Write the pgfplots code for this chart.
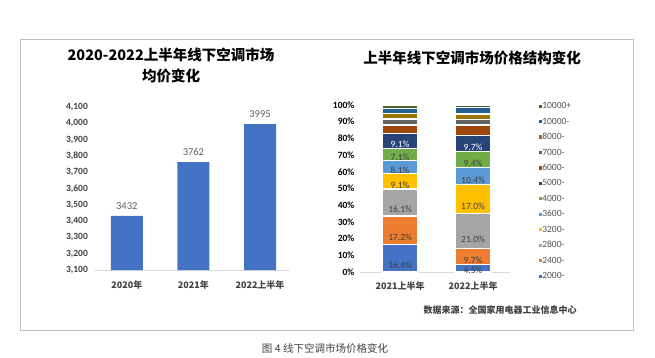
\documentclass[border=0pt]{standalone}
\usepackage{fontspec}
\usepackage{pgfplots}
\usepackage{pgfplotstable}
\pgfplotsset{compat=1.18}
\setmainfont{Carlito}
\newfontfamily\cjk{Noto Sans CJK SC}
\definecolor{c1}{HTML}{4472C4}
\definecolor{c2}{HTML}{ED7D31}
\definecolor{c3}{HTML}{A5A5A5}
\definecolor{c4}{HTML}{FFC000}
\definecolor{c5}{HTML}{5B9BD5}
\definecolor{c6}{HTML}{70AD47}
\definecolor{c7}{HTML}{264478}
\definecolor{c8}{HTML}{9E480E}
\definecolor{c9}{HTML}{636363}
\definecolor{c10}{HTML}{997300}
\definecolor{c11}{HTML}{255E91}
\definecolor{c12}{HTML}{43682B}
\definecolor{txt}{HTML}{404040}
\definecolor{axl}{HTML}{D9D9D9}
\definecolor{frm}{HTML}{BFBFBF}

\pgfplotstableread{
x y
0 3432
1 3762
2 3995
}\avgprice

\pgfplotstableread{
x s1 s2 s3 s4 s5 s6 s7 s8 s9 s10 s11 s12
0 16.4 17.2 16.1 9.1 8.1 7.1 9.1 4.9 3.7 3.2 3.2 1.9
1 4.5 9.7 21.0 17.0 10.4 9.4 9.7 6.3 3.5 3.2 3.8 1.5
}\structure

\pgfplotsset{
  lab/.style={
    point meta=explicit symbolic,
    nodes near coords={\pgfplotspointmeta\%},
    every node near coord/.append style={anchor=center, yshift={-\pgfplotspointmeta*0.4175pt},
      font=\fontsize{9.5}{9.5}\selectfont, text=txt, draw=none, inner sep=0pt},
  },
}

\begin{document}
\begin{tikzpicture}[x=1pt,y=1pt]
\path[use as bounding box] (0,0) rectangle (655,357);
\draw[frm, line width=1pt] (20,27) rectangle (633,317);

\node[font=\cjk\bfseries\fontsize{14.5}{16}\selectfont] at (171,302) {2020-2022上半年线下空调市场};
\node[font=\cjk\bfseries\fontsize{14.5}{16}\selectfont] at (171,281) {均价变化};
\node[font=\cjk\bfseries\fontsize{14.5}{16}\selectfont] at (472,299) {上半年线下空调市场价格结构变化};
\node[font=\cjk\bfseries\fontsize{9}{10}\selectfont, text=txt] at (500,47) {数据来源：全国家用电器工业信息中心};
\node[font=\cjk\fontsize{10.5}{12}\selectfont, text=txt] at (325,9) {图 4 线下空调市场价格变化};

\begin{axis}[
  at={(93.5pt,87pt)}, anchor=south west,
  scale only axis, width=196.5pt, height=163pt,
  xmin=-0.5, xmax=2.45, ymin=3100, ymax=4100,
  axis lines=left,
  x axis line style={draw=axl, line width=0.8pt, -},
  y axis line style={draw=none},
  tick style={draw=none},
  ytick={3100,3200,...,4100},
  scaled y ticks=false,
  xtick={0,1,2}, xticklabels={2020年,2021年,2022上半年},
  xticklabel style={font=\cjk\bfseries\fontsize{9}{10}\selectfont, text=txt, yshift=-5pt},
  yticklabel style={font=\bfseries\fontsize{9.5}{10}\selectfont, text=txt},
  /pgf/number format/assume math mode=true,
  clip=false,
]
\addplot[ybar, bar width=32pt, fill=c1, draw=none,
  nodes near coords={\pgfmathprintnumber[1000 sep={}]{\pgfplotspointmeta}},
  nodes near coords style={font=\fontsize{10.5}{11}\selectfont, text=txt!85, yshift=3pt}]
  table[x=x,y=y] \avgprice;
\end{axis}

\begin{axis}[
  at={(360pt,85pt)}, anchor=south west,
  scale only axis, width=149.5pt, height=167pt,
  ybar stacked, bar width=36pt,
  xmin=-0.55, xmax=1.5, ymin=0, ymax=100,
  axis lines=left,
  x axis line style={draw=axl, line width=0.8pt, -},
  y axis line style={draw=none},
  tick style={draw=none},
  ytick={0,10,...,100},
  yticklabel={\pgfmathprintnumber{\tick}\%},
  xtick={0,1}, xticklabels={2021上半年,2022上半年},
  xticklabel style={font=\cjk\bfseries\fontsize{9}{10}\selectfont, text=txt, yshift=-4pt},
  yticklabel style={font=\bfseries\fontsize{9.5}{10}\selectfont, text=black},
  /pgf/number format/assume math mode=true,
  every axis plot/.append style={draw=white, line width=1.3pt},
  reverse legend,
  legend cell align=left,
  legend image code/.code={\fill[#1,draw=none] (0pt,-1.6pt) rectangle (3.2pt,1.6pt);},
  legend style={at={(1.197,1.015)}, anchor=north west, draw=none, fill=none,
    font=\fontsize{9.5}{10}\selectfont, text=txt!90, inner sep=0pt, row sep=8.45pt,
    nodes={inner sep=0pt, text height=6pt, text depth=1pt},
    /tikz/every even column/.append style={column sep=2.5pt}},
]
\addplot[fill=c1, lab] table[x=x,y=s1,meta=s1] \structure;
\addplot[fill=c2, lab] table[x=x,y=s2,meta=s2] \structure;
\addplot[fill=c3, lab] table[x=x,y=s3,meta=s3] \structure;
\addplot[fill=c4, lab] table[x=x,y=s4,meta=s4] \structure;
\addplot[fill=c5, lab] table[x=x,y=s5,meta=s5] \structure;
\addplot[fill=c6, lab] table[x=x,y=s6,meta=s6] \structure;
\addplot[fill=c7, lab, every node near coord/.append style={text=white}] table[x=x,y=s7,meta=s7] \structure;
\addplot[fill=c8] table[x=x,y=s8] \structure;
\addplot[fill=c9] table[x=x,y=s9] \structure;
\addplot[fill=c10] table[x=x,y=s10] \structure;
\addplot[fill=c11] table[x=x,y=s11] \structure;
\addplot[fill=c12] table[x=x,y=s12] \structure;
\legend{2000-,2400-,2800-,3200-,3600-,4000-,5000-,6000-,7000-,8000-,10000-,10000+}
\end{axis}
\end{tikzpicture}
\end{document}
